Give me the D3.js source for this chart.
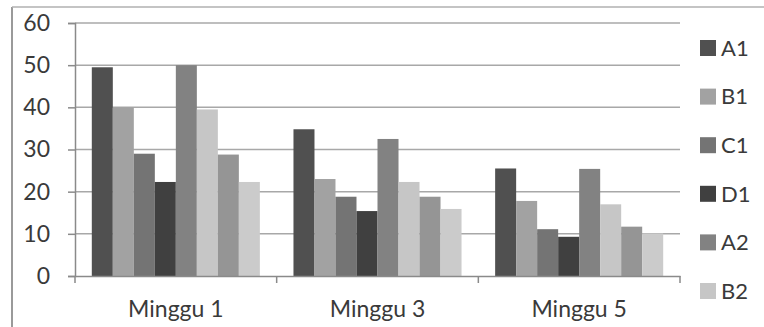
<!DOCTYPE html>
<html><head><meta charset="utf-8">
<script src="https://cdn.jsdelivr.net/npm/d3@7"></script>
<style>body{margin:0;background:#fff}svg{display:block}</style>
</head><body>
<svg id="c" width="764" height="327"></svg>
<script>
const categories = ["Minggu 1", "Minggu 3", "Minggu 5"];
const seriesNames = ["A1", "B1", "C1", "D1", "A2", "B2", "C2", "D2"];
const A1 = [49.5, 34.8, 25.5];
const B1 = [40, 23, 17.8];
const C1 = [29, 18.8, 11.1];
const D1 = [22.3, 15.4, 9.3];
const A2 = [50, 32.5, 25.4];
const B2 = [39.5, 22.3, 17];
const C2 = [28.8, 18.8, 11.7];
const D2 = [22.3, 15.9, 10.1];
const yTicks = [0, 10, 20, 30, 40, 50, 60];
const legendNames = ["A1", "B1", "C1", "D1", "A2", "B2"];
const colors = ["#505050", "#a2a2a2", "#747474", "#404040", "#828282", "#c6c6c6", "#959595", "#cbcbcb"];

const seriesValues = [A1, B1, C1, D1, A2, B2, C2, D2];
const svg = d3.select("#c");
const font = "Lato, 'Open Sans', sans-serif";
const L = 75, R = 680, T = 23, B = 276;

// frame
svg.append("line").attr("x1", 12).attr("x2", 12).attr("y1", 7).attr("y2", 327).attr("stroke", "#9a9a9a").attr("stroke-width", 2);
svg.append("line").attr("x1", 12).attr("x2", 764).attr("y1", 7).attr("y2", 7).attr("stroke", "#b0b0b0").attr("stroke-width", 1.5);

const x0 = d3.scaleBand().domain(categories).range([L, R]).paddingInner(0).paddingOuter(0);
const x1 = d3.scaleBand().domain(seriesNames).range([0, x0.bandwidth()]).paddingInner(0).paddingOuter(0.8);
const y = d3.scaleLinear().domain([0, 60]).range([B, T]);

// gridlines
svg.append("g").selectAll("line").data(yTicks.filter(d => d > 0)).join("line")
  .attr("x1", L).attr("x2", R).attr("y1", d => y(d)).attr("y2", d => y(d))
  .attr("stroke", "#a8a8a8").attr("stroke-width", 1.5);

// bars
const g = svg.append("g");
categories.forEach((c, ci) => {
  seriesNames.forEach((s, si) => {
    const v = seriesValues[si][ci];
    g.append("rect")
      .attr("x", x0(c) + x1(s)).attr("width", x1.bandwidth())
      .attr("y", y(v)).attr("height", y(0) - y(v))
      .attr("fill", colors[si]);
  });
});

// y axis
const yAxis = d3.axisLeft(y).tickValues(yTicks).tickSize(7).tickPadding(18).tickFormat(d3.format("d"));
const ya = svg.append("g").attr("transform", `translate(${L},0)`).call(yAxis);
ya.select(".domain").attr("stroke", "#8a8a8a").attr("stroke-width", 1.5);
ya.selectAll(".tick line").attr("stroke", "#8a8a8a").attr("stroke-width", 1.5);
ya.selectAll("text").attr("font-family", font).attr("font-size", 23).attr("fill", "#3a3a3a");

// x axis
const xAxis = d3.axisBottom(x0).tickSize(0).tickPadding(25);
const xa = svg.append("g").attr("transform", `translate(0,${B})`).call(xAxis);
xa.select(".domain").attr("stroke", "#8a8a8a").attr("stroke-width", 1.5);
xa.selectAll("text").attr("font-family", font).attr("font-size", 23).attr("fill", "#3a3a3a");
// category boundary ticks
xa.append("g").selectAll("line").data([L, ...categories.map(c => x0(c) + x0.bandwidth())]).join("line")
  .attr("x1", d => d).attr("x2", d => d).attr("y1", 0).attr("y2", 7)
  .attr("stroke", "#8a8a8a").attr("stroke-width", 1.5);

// legend
const lg = svg.append("g").selectAll("g").data(legendNames).join("g")
  .attr("transform", (d, i) => `translate(700,${48 + i * 48.6})`);
lg.append("rect").attr("x", 0).attr("y", -8).attr("width", 16).attr("height", 16)
  .attr("fill", (d, i) => colors[i]);
lg.append("text").attr("x", 21).attr("y", 0).attr("dy", "0.35em").text(d => d)
  .attr("font-family", font).attr("font-size", 22).attr("fill", "#3a3a3a");
</script>
</body></html>
